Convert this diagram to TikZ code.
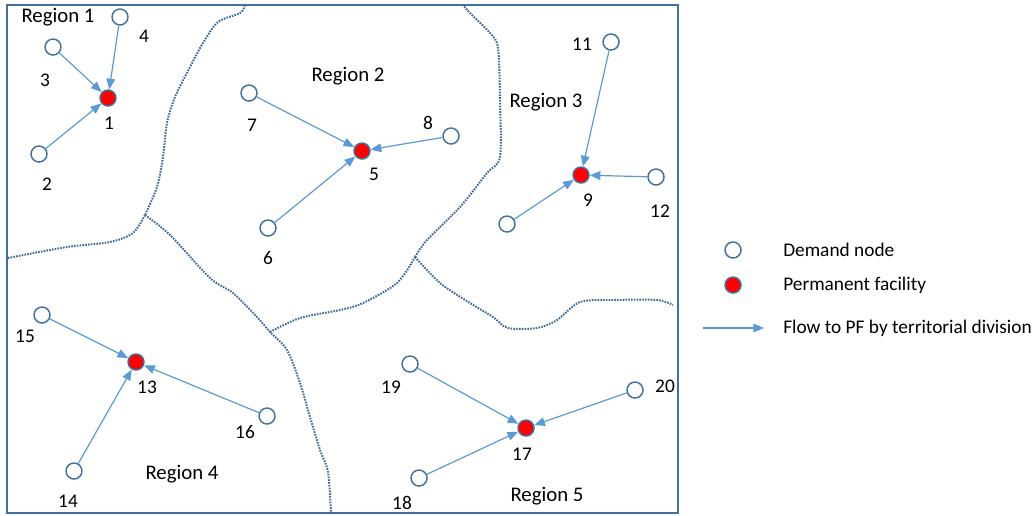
\documentclass[tikz,border=0pt]{standalone}
\usepackage{fontspec}
\setmainfont{Carlito}
\usetikzlibrary{arrows.meta}
\definecolor{nodeblue}{HTML}{41719C}
\definecolor{flowblue}{HTML}{5B9BD5}
\definecolor{bordblue}{HTML}{3F6A96}
\begin{document}
\begin{tikzpicture}[x=0.75pt,y=-0.75pt,
  demand/.style={circle, draw=nodeblue, fill=white, line width=1.1pt, minimum size=12pt, inner sep=0pt},
  facility/.style={circle, draw=nodeblue, fill=red, line width=1.1pt, minimum size=12pt, inner sep=0pt},
  flow/.style={draw=flowblue, line width=0.9pt, -{Triangle[length=8pt,width=6.5pt]}},
  lbl/.style={font=\fontsize{14.5}{17}\selectfont, inner sep=0pt},
  rlbl/.style={font=\fontsize{15.6}{18}\selectfont, inner sep=0pt},
  boundary/.style={draw=bordblue, line width=1.5pt, dash pattern=on 1.2pt off 0.9pt},
  frame/.style={draw=nodeblue, line width=1.5pt}]
\useasboundingbox (0,0) rectangle (1035,515);
\draw[frame] (7,5) rectangle (678,513);
% boundaries
\draw[boundary] plot[smooth, tension=0.5] coordinates {(245,5) (240,13) (218,22) (203,43) (190,67) (175,97) (167,123) (163,157) (157,187) (145,215)};
\draw[boundary] plot[smooth, tension=0.5] coordinates {(145,215) (133,233) (110,242) (67,247) (8,258)};
\draw[boundary] plot[smooth, tension=0.5] coordinates {(145,215) (170,235) (210,278) (233,293) (257,317) (270,332) (287,350) (300,383) (310,417) (320,450) (328,472) (331,513)};
\draw[boundary] plot[smooth, tension=0.5] coordinates {(270,332) (300,318) (340,310) (363,303) (397,283) (415,257)};
\draw[boundary] plot[smooth, tension=0.5] coordinates {(415,257) (427,240) (460,207) (487,173) (500,157) (500,100) (498,48) (490,33) (470,13) (463,5)};
\draw[boundary] plot[smooth, tension=0.5] coordinates {(415,257) (440,283) (470,303) (493,317) (508,328) (537,328) (557,320) (580,302) (613,300) (657,300) (673,305)};
% region labels
\node[rlbl] (r1) at (58,17) {Region 1};
\node[rlbl] (r2) at (348,76) {Region 2};
\node[rlbl] (r3) at (546,102) {Region 3};
\node[rlbl] (r4) at (182,474) {Region 4};
\node[rlbl] (r5) at (547,496) {Region 5};
% facilities
\node[facility] (n1) at (108,98) {};
\node[facility] (n5) at (362,151) {};
\node[facility] (n9) at (581,175) {};
\node[facility] (n13) at (136,362) {};
\node[facility] (n17) at (526,428) {};
% demand nodes
\node[demand] (n2) at (39,154) {};
\node[demand] (n3) at (53,47) {};
\node[demand] (n4) at (120,17) {};
\node[demand] (n6) at (268,228) {};
\node[demand] (n7) at (249,93) {};
\node[demand] (n8) at (451,136) {};
\node[demand] (n10) at (507,224) {};
\node[demand] (n11) at (611,42) {};
\node[demand] (n12) at (656,177) {};
\node[demand] (n14) at (74,471) {};
\node[demand] (n15) at (42,315) {};
\node[demand] (n16) at (267,416) {};
\node[demand] (n18) at (419,478) {};
\node[demand] (n19) at (410,364) {};
\node[demand] (n20) at (635,390) {};
% number labels
\node[lbl] (l1) at (109,123) {1};
\node[lbl] (l2) at (47,184) {2};
\node[lbl] (l3) at (45,80) {3};
\node[lbl] (l4) at (144,36) {4};
\node[lbl] (l5) at (374,174) {5};
\node[lbl] (l6) at (268,258) {6};
\node[lbl] (l7) at (252,125) {7};
\node[lbl] (l8) at (428,123) {8};
\node[lbl] (l9) at (588,200) {9};
\node[lbl] (l11) at (582,44) {11};
\node[lbl] (l12) at (660,211) {12};
\node[lbl] (l13) at (147,387) {13};
\node[lbl] (l14) at (68,501) {14};
\node[lbl] (l15) at (25,336) {15};
\node[lbl] (l16) at (245,432) {16};
\node[lbl] (l17) at (522,454) {17};
\node[lbl] (l18) at (402,503) {18};
\node[lbl] (l19) at (391,387) {19};
\node[lbl] (l20) at (665,386) {20};
% flows
\draw[flow] (n2) -- (n1);
\draw[flow] (n3) -- (n1);
\draw[flow] (n4) -- (n1);
\draw[flow] (n6) -- (n5);
\draw[flow] (n7) -- (n5);
\draw[flow] (n8) -- (n5);
\draw[flow] (n10) -- (n9);
\draw[flow] (n11) -- (n9);
\draw[flow] (n12) -- (n9);
\draw[flow] (n14) -- (n13);
\draw[flow] (n15) -- (n13);
\draw[flow] (n16) -- (n13);
\draw[flow] (n18) -- (n17);
\draw[flow] (n19) -- (n17);
\draw[flow] (n20) -- (n17);
% legend
\node[demand] (ld) at (733,250) {};
\node[facility] (lf) at (733,285) {};
\coordinate (la1) at (703,328);
\coordinate (la2) at (764,328);
\draw[flow] (la1) -- (la2);
\node[lbl, anchor=west] (ltd) at (783,250) {Demand node};
\node[lbl, anchor=west] (ltf) at (783,285) {Permanent facility};
\node[lbl, anchor=west] (lta) at (783,328) {Flow to PF by territorial division};
\end{tikzpicture}
\end{document}
